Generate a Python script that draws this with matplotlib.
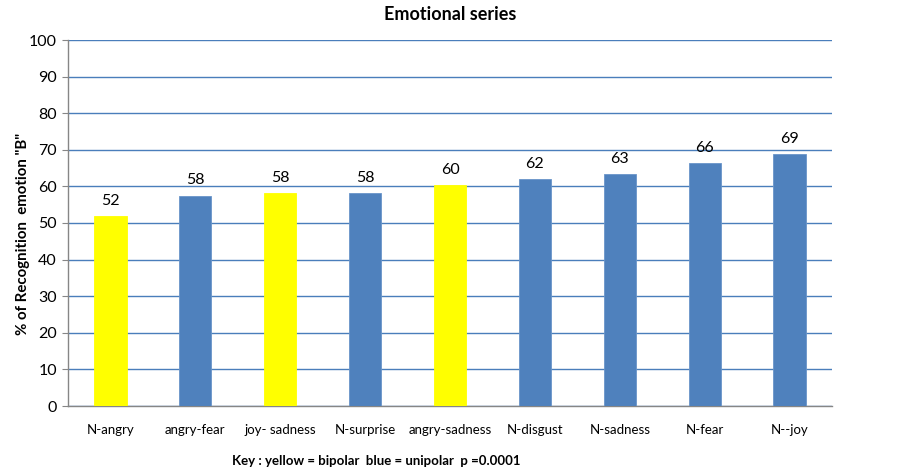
import matplotlib
matplotlib.use("Agg")
import matplotlib.pyplot as plt

categories = ["N-angry", "angry-fear", "joy- sadness", "N-surprise", "angry-sadness",
              "N-disgust", "N-sadness", "N-fear", "N--joy"]
values = [51.8, 57.5, 58.2, 58.3, 60.3, 62.0, 63.5, 66.3, 68.9]
labels = ["52", "58", "58", "58", "60", "62", "63", "66", "69"]
groups = ["bipolar", "unipolar", "bipolar", "unipolar", "bipolar",
          "unipolar", "unipolar", "unipolar", "unipolar"]
yticks = [0, 10, 20, 30, 40, 50, 60, 70, 80, 90, 100]

colors = {"bipolar": "#FFFF00", "unipolar": "#4F81BD"}
edges = {"bipolar": "#FFFF00", "unipolar": "#6A95C9"}

font = ["Lato", "DejaVu Sans"]

fig = plt.figure(figsize=(9, 4.74), dpi=100)
ax = fig.add_axes([68/900, 1-406/474, 764/900, 366/474])

x = list(range(len(categories)))
ax.bar(x, values, width=0.38, color=[colors[g] for g in groups], zorder=3,
       edgecolor=[edges[g] for g in groups], linewidth=0.6)
for xi, v, lab in zip(x, values, labels):
    ax.text(xi, v + 2.2, lab, ha="center", va="bottom", fontsize=11.5, family=font, zorder=4)

ax.set_xlim(-0.5, len(categories) - 0.5)
ax.set_ylim(0, 100)
ax.set_yticks(yticks)
ax.set_yticklabels([str(t) for t in yticks], fontsize=11.5, family=font)
ax.set_xticks(x)
ax.set_xticklabels(categories, fontsize=9.5, family=font)
ax.tick_params(axis="x", length=0, pad=13)
ax.tick_params(axis="y", length=4, color="#868686", pad=4)
ax.yaxis.grid(True, color="#4A7EBB", linewidth=1.0, zorder=0)
ax.set_axisbelow(True)
for s in ["top", "right"]:
    ax.spines[s].set_visible(False)
for s in ["left", "bottom"]:
    ax.spines[s].set_color("#868686")
    ax.spines[s].set_linewidth(1.0)

ax.set_ylabel('% of Recognition  emotion "B"', fontsize=10.8, fontweight="bold", family=font)
ax.yaxis.set_label_coords(-0.05, 0.47)
fig.text(450/900, 1-14/474, "Emotional series", ha="center", va="center",
         fontsize=13, fontweight="bold", family=font)
fig.text(376/900, 1-461/474, "Key : yellow = bipolar  blue = unipolar  p =0.0001", ha="center", va="center",
         fontsize=9.5, fontweight="bold", family=font)

fig.savefig("out.png", dpi=100)
